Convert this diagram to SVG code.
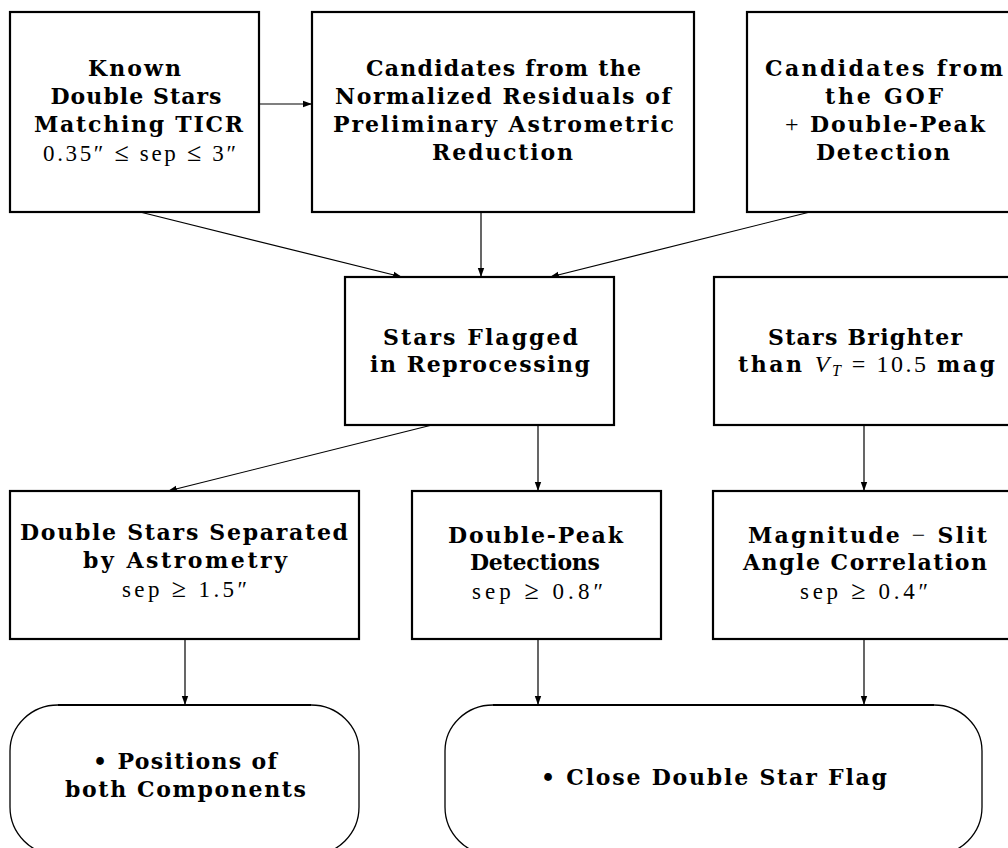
<svg xmlns="http://www.w3.org/2000/svg" width="1008" height="848" viewBox="0 0 1008 848">
<style>
.box{fill:#fff;stroke:#000;stroke-width:2.2}
.rbox{fill:#fff;stroke:#000;stroke-width:1.3}
.top{stroke:#000;stroke-width:2.2}
.b{font-family:"DejaVu Serif","Liberation Serif",serif;font-weight:bold;font-size:22px;text-anchor:middle;fill:#000}
.m{font-family:"Liberation Serif",serif;font-weight:normal;font-size:23px;text-anchor:middle;fill:#000}
.r{font-family:"Liberation Serif",serif;font-weight:normal}
.i{font-family:"Liberation Serif",serif;font-style:italic;font-weight:normal}
.op{font-size:26px}
.c{stroke:#000;stroke-width:1.2;fill:none;marker-end:url(#ah)}
</style>
<defs>
<marker id="ah" markerUnits="userSpaceOnUse" markerWidth="10" markerHeight="8" refX="9" refY="4" orient="auto">
<path d="M0,0.8 L9,4 L0,7.2 Z" fill="#000"/>
</marker>
</defs>
<rect width="1008" height="848" fill="#fff"/>
<g id="connectors">
<line class="c" x1="259" y1="104" x2="312" y2="104"/>
<line class="c" x1="140" y1="212" x2="402" y2="277"/>
<line class="c" x1="481" y1="212" x2="481" y2="277"/>
<line class="c" x1="810" y1="212" x2="550" y2="277"/>
<line class="c" x1="432" y1="425" x2="168" y2="491"/>
<line class="c" x1="538" y1="425" x2="538" y2="491"/>
<line class="c" x1="864" y1="425" x2="864" y2="491"/>
<line class="c" x1="185" y1="639" x2="185" y2="705"/>
<line class="c" x1="538" y1="639" x2="538" y2="705"/>
<line class="c" x1="864" y1="639" x2="864" y2="705"/>
</g>
<g id="known">
<rect class="box" x="10" y="12" width="249" height="200"/>
<text class="b" x="134.5" y="76" textLength="93">Known</text>
<text class="b" x="136" y="104" textLength="171">Double Stars</text>
<text class="b" x="138.5" y="132" textLength="209">Matching TICR</text>
<text class="m" x="139.5" y="161" textLength="193">0.35″ <tspan class="op">≤</tspan> sep <tspan class="op">≤</tspan> 3″</text>
</g>
<g id="residuals">
<rect class="box" x="312" y="12" width="382" height="200"/>
<text class="b" x="503.5" y="76" textLength="275">Candidates from the</text>
<text class="b" x="503" y="104" textLength="336">Normalized Residuals of</text>
<text class="b" x="503.5" y="132" textLength="341">Preliminary Astrometric</text>
<text class="b" x="502.5" y="160" textLength="141">Reduction</text>
</g>
<g id="gof">
<rect class="box" x="747" y="12" width="280" height="200"/>
<text class="b" x="884" y="76" textLength="238">Candidates from</text>
<text class="b" x="884" y="104" textLength="118">the GOF</text>
<text class="b" x="885" y="132" textLength="200"><tspan class="r" font-size="24">+</tspan> Double-Peak</text>
<text class="b" x="883" y="160" textLength="134">Detection</text>
</g>
<g id="flagged">
<rect class="box" x="345" y="277" width="269" height="148"/>
<text class="b" x="480.5" y="345" textLength="195">Stars Flagged</text>
<text class="b" x="480" y="372" textLength="220">in Reprocessing</text>
</g>
<g id="brighter">
<rect class="box" x="714" y="277" width="310" height="148"/>
<text class="b" x="865" y="345" textLength="194">Stars Brighter</text>
<text class="b" x="866.5" y="372" textLength="257">than <tspan class="i" font-size="24">V</tspan><tspan class="i" font-size="16" dy="4">T</tspan><tspan class="r" font-size="24" dy="-4"> = 10.5 </tspan>mag</text>
</g>
<g id="separated">
<rect class="box" x="10" y="491" width="349" height="148"/>
<text class="b" x="184" y="540" textLength="328">Double Stars Separated</text>
<text class="b" x="185" y="568" textLength="204">by Astrometry</text>
<text class="m" x="184.5" y="597" textLength="125">sep <tspan class="op">≥</tspan> 1.5″</text>
</g>
<g id="doublepeak">
<rect class="box" x="412" y="491" width="249" height="148"/>
<text class="b" x="535.5" y="543" textLength="175">Double-Peak</text>
<text class="b" x="535" y="570" textLength="130">Detections</text>
<text class="m" x="537.5" y="599" textLength="131">sep <tspan class="op">≥</tspan> 0.8″</text>
</g>
<g id="magnitude">
<rect class="box" x="713" y="491" width="310" height="148"/>
<text class="b" x="867.5" y="543" textLength="239">Magnitude <tspan class="r" font-size="24">−</tspan> Slit</text>
<text class="b" x="865" y="570" textLength="244">Angle Correlation</text>
<text class="m" x="864" y="599" textLength="128">sep <tspan class="op">≥</tspan> 0.4″</text>
</g>
<g id="positions">
<path class="rbox" d="M58,705 L311,705 A48,46 0 0 1 359,751 L359,807 A48,48 0 0 1 311,855 L58,855 A48,48 0 0 1 10,807 L10,751 A48,46 0 0 1 58,705 Z"/>
<line class="top" x1="58" y1="705" x2="311" y2="705"/>
<text class="b" x="185" y="769" textLength="184">• Positions of</text>
<text class="b" x="185.5" y="797" textLength="241">both Components</text>
</g>
<g id="closeflag">
<path class="rbox" d="M493,705 L934,705 A48,46 0 0 1 982,751 L982,807 A48,48 0 0 1 934,855 L493,855 A48,48 0 0 1 445,807 L445,751 A48,46 0 0 1 493,705 Z"/>
<line class="top" x1="493" y1="705" x2="934" y2="705"/>
<text class="b" x="714" y="785" textLength="346">• Close Double Star Flag</text>
</g>
</svg>
